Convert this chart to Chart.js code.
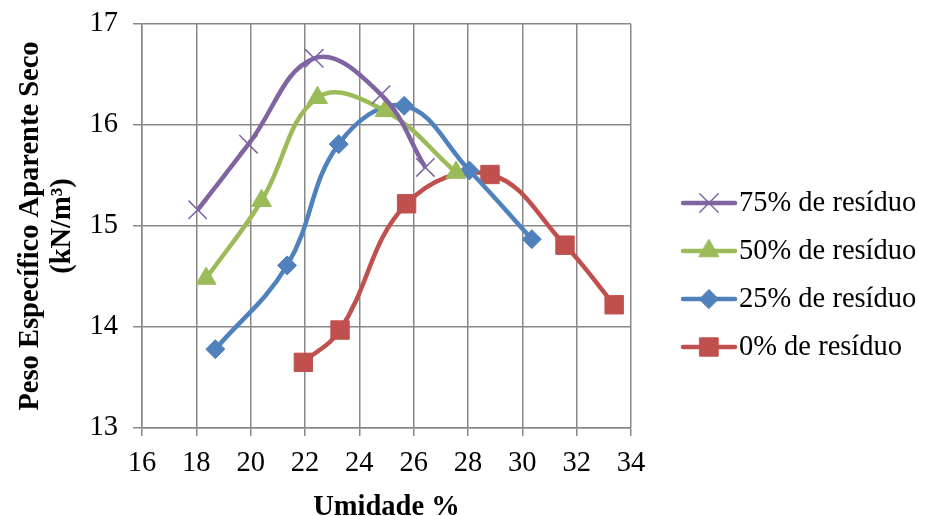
<!DOCTYPE html>
<html>
<head>
<meta charset="utf-8">
<script src="https://cdn.jsdelivr.net/npm/chart.js@4/dist/chart.umd.min.js"></script>
<style>
  html, body { margin: 0; padding: 0; background: #ffffff; }
  #wrap { width: 927px; height: 516px; position: relative; }
</style>
</head>
<body>
<div id="wrap"><canvas id="chart"></canvas></div>
<script>
// Compaction curves: dry unit weight vs. moisture content for each residue content
const seriesNames = ['75% de resíduo', '50% de resíduo', '25% de resíduo', '0% de resíduo'];

const umidade75 = [18.05, 19.92, 22.34, 24.80, 26.43];
const peso75    = [15.16, 15.81, 16.66, 16.30, 15.58];

const umidade50 = [18.36, 20.40, 22.46, 24.95, 27.56];
const peso50    = [14.48, 15.25, 16.27, 16.14, 15.53];

const umidade25 = [18.70, 21.34, 23.24, 25.65, 28.05, 30.35];
const peso25    = [13.78, 14.61, 15.81, 16.19, 15.55, 14.87];

const umidade0  = [21.94, 23.29, 25.74, 28.81, 31.57, 33.38];
const peso0     = [13.65, 13.97, 15.22, 15.51, 14.81, 14.22];

const xTickValues = [16, 18, 20, 22, 24, 26, 28, 30, 32, 34];
const yTickValues = [13, 14, 15, 16, 17];

const xTitle = 'Umidade %';
const yTitle = ['Peso Específico Aparente Seco', '(kN/m³)'];

const FONT = "'Liberation Serif', 'Times New Roman', serif";
const GRID = '#888888';

function toPoints(xs, ys) {
  return xs.map((x, i) => ({ x: x, y: ys[i] }));
}

function makeSeries(label, xs, ys, color, style, radius, pbw) {
  return {
    label: label,
    data: toPoints(xs, ys),
    showLine: true,
    borderColor: color,
    backgroundColor: color,
    borderWidth: 4.5,
    tension: 0.4,
    pointStyle: style,
    pointRadius: radius,
    pointHoverRadius: radius,
    pointBackgroundColor: color,
    pointBorderColor: color,
    pointBorderWidth: pbw
  };
}

const datasets = [
  makeSeries(seriesNames[0], umidade75, peso75, '#8064A2', 'crossRot', 13, 1.5),
  makeSeries(seriesNames[1], umidade50, peso50, '#9BBB59', 'triangle', 11.5, 1),
  makeSeries(seriesNames[2], umidade25, peso25, '#4F81BD', 'rectRot', 9.5, 1),
  makeSeries(seriesNames[3], umidade0,  peso0,  '#C0504D', 'rect', 13, 1)
];

// Legend at the right: short line sample with the series marker, then the name
const sideLegend = {
  id: 'sideLegend',
  afterDraw(chart) {
    const ctx = chart.ctx;
    const lineStart = chart.chartArea.right + 52;
    const lineLen = 52;
    const rowY0 = 203, rowGap = 48;
    chart.data.datasets.forEach((ds, i) => {
      const y = rowY0 + i * rowGap;
      const cx = lineStart + lineLen / 2;
      ctx.save();
      ctx.strokeStyle = ds.borderColor;
      ctx.lineWidth = ds.borderWidth;
      ctx.lineCap = 'round';
      ctx.beginPath();
      ctx.moveTo(lineStart, y);
      ctx.lineTo(lineStart + lineLen, y);
      ctx.stroke();
      ctx.fillStyle = ds.pointBackgroundColor;
      ctx.strokeStyle = ds.pointBorderColor;
      ctx.lineWidth = ds.pointBorderWidth;
      Chart.helpers.drawPoint(ctx, {
        pointStyle: ds.pointStyle,
        radius: ds.pointRadius,
        borderWidth: ds.pointBorderWidth,
        rotation: 0
      }, cx, y);
      ctx.fillStyle = '#000000';
      ctx.font = '28.5px ' + FONT;
      ctx.textAlign = 'left';
      ctx.textBaseline = 'middle';
      ctx.fillText(ds.label, lineStart + lineLen + 4, y + 1);
      ctx.restore();
    });
  }
};

new Chart(document.getElementById('chart'), {
  type: 'scatter',
  data: { datasets: datasets },
  plugins: [sideLegend],
  options: {
    responsive: true,
    maintainAspectRatio: false,
    animation: false,
    devicePixelRatio: 1,
    layout: { padding: { top: 24, right: 296, bottom: 0, left: 0 } },
    plugins: {
      legend: { display: false },
      tooltip: { enabled: false }
    },
    scales: {
      x: {
        type: 'linear',
        min: 16, max: 34,
        afterBuildTicks(scale) { scale.ticks = xTickValues.map(v => ({ value: v })); },
        afterFit(scale) { scale.height = 88; scale.paddingLeft = 0; scale.paddingRight = 0; },
        grid: { color: GRID, lineWidth: 1.5, tickLength: 8, tickColor: GRID, drawTicks: true },
        border: { color: GRID, width: 1.5 },
        ticks: { color: '#000000', font: { family: FONT, size: 28.5 }, padding: 10, maxRotation: 0 },
        title: {
          display: true, text: xTitle, color: '#000000',
          font: { family: FONT, size: 28.5, weight: 'bold', lineHeight: 0.6 },
          padding: { top: 0, bottom: 0 }
        }
      },
      y: {
        type: 'linear',
        min: 13, max: 17,
        afterBuildTicks(scale) { scale.ticks = yTickValues.map(v => ({ value: v })); },
        afterFit(scale) { scale.width = 142; scale.paddingTop = 0; scale.paddingBottom = 0; },
        grid: { color: GRID, lineWidth: 1.5, tickLength: 9, tickColor: GRID, drawTicks: true },
        border: { color: GRID, width: 1.5 },
        ticks: { color: '#000000', font: { family: FONT, size: 28.5 }, padding: 15 },
        title: {
          display: true, text: yTitle, color: '#000000',
          font: { family: FONT, size: 28.5, weight: 'bold', lineHeight: 1.12 },
          padding: { top: 15, bottom: 0 }
        }
      }
    }
  }
});
</script>
</body>
</html>
